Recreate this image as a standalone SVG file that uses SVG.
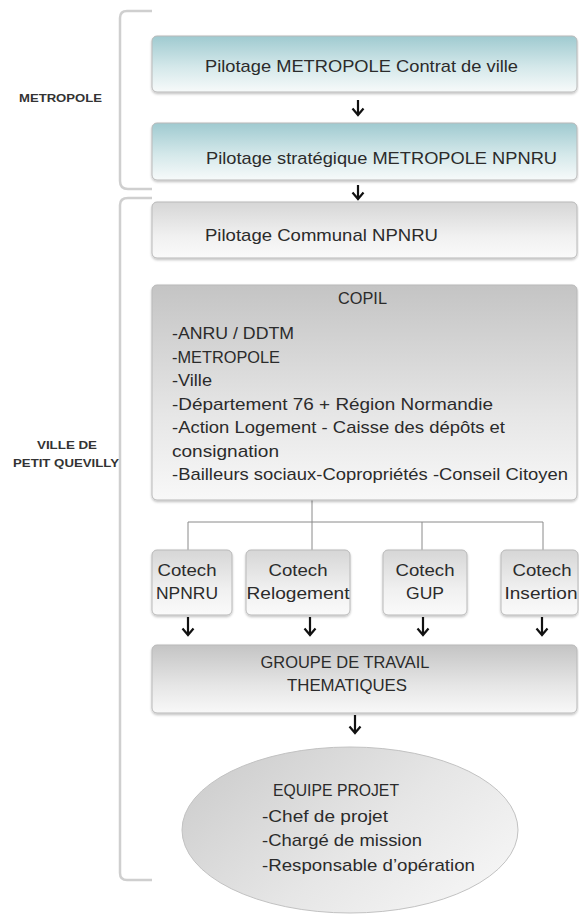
<svg xmlns="http://www.w3.org/2000/svg" width="579" height="916" viewBox="0 0 579 916">
<defs>
<linearGradient id="gBlue" x1="0" y1="0" x2="0" y2="1">
<stop offset="0" stop-color="#9fcad0"/><stop offset="0.55" stop-color="#d4e8ea"/><stop offset="1" stop-color="#f7fafa"/>
</linearGradient>
<linearGradient id="gGrayL" x1="0" y1="0" x2="0" y2="1">
<stop offset="0" stop-color="#d6d6d6"/><stop offset="0.6" stop-color="#f0f0f0"/><stop offset="1" stop-color="#fafafa"/>
</linearGradient>
<linearGradient id="gGray" x1="0" y1="0" x2="0" y2="1">
<stop offset="0" stop-color="#c4c4c4"/><stop offset="0.6" stop-color="#e6e6e6"/><stop offset="1" stop-color="#f8f8f8"/>
</linearGradient>
<linearGradient id="gEll" x1="0" y1="0.2" x2="1" y2="0.8">
<stop offset="0" stop-color="#cdcdcd"/><stop offset="0.55" stop-color="#e6e6e6"/><stop offset="1" stop-color="#f6f6f6"/>
</linearGradient>
<filter id="sh" x="-5%" y="-5%" width="110%" height="120%">
<feDropShadow dx="0" dy="1.5" stdDeviation="1.2" flood-color="#000" flood-opacity="0.25"/>
</filter>
</defs>
<style>
text{font-family:"Liberation Sans",Arial,sans-serif;fill:#2b2b2b;}
.t{font-size:17px;}
.lbl{font-size:11px;font-weight:bold;fill:#333;}
.box{stroke:#b9b9b9;stroke-width:1;filter:url(#sh);}
.br{fill:none;stroke:#cfcfcf;stroke-width:2.5;}
.ln{fill:none;stroke:#8a8a8a;stroke-width:1;}
.ar{fill:none;stroke:#111;stroke-width:2.2;}
</style>

<g id="brackets">
<path class="br" d="M152,11 H127 Q120,11 120,18 V181 Q120,189 128,189 H152"/>
<path class="br" d="M152,198 H128 Q120,198 120,205 V873 Q120,880 127,880 H152"/>
</g>

<g id="label-metropole"><text class="lbl" x="19" y="102" textLength="83" lengthAdjust="spacingAndGlyphs">METROPOLE</text></g>
<g id="label-ville">
<text class="lbl" x="37" y="449" textLength="60" lengthAdjust="spacingAndGlyphs">VILLE DE</text>
<text class="lbl" x="13" y="467" textLength="106" lengthAdjust="spacingAndGlyphs">PETIT QUEVILLY</text>
</g>

<g id="connectors">
<path class="ar" d="M358,100 V115 M352.5,108.5 L358,115 L363.5,108.5"/>
<path class="ar" d="M358,185 V199 M352.5,192.5 L358,199 L363.5,192.5"/>
<path class="ln" d="M312,500 V522 M188,522 H543 M188,522 V550 M312,522 V550 M422,522 V550 M543,522 V550"/>
<path class="ar" d="M188,617 V635 M182.5,628.5 L188,635 L193.5,628.5"/>
<path class="ar" d="M310,617 V635 M304.5,628.5 L310,635 L315.5,628.5"/>
<path class="ar" d="M423,617 V635 M417.5,628.5 L423,635 L428.5,628.5"/>
<path class="ar" d="M542,617 V635 M536.5,628.5 L542,635 L547.5,628.5"/>
<path class="ar" d="M355,715 V733 M349.5,726.5 L355,733 L360.5,726.5"/>
</g>

<g id="n-pilotage-metropole">
<rect class="box" x="152" y="36" width="425" height="56" rx="5" fill="url(#gBlue)"/>
<text class="t" x="205" y="72" textLength="313" lengthAdjust="spacingAndGlyphs">Pilotage  METROPOLE  Contrat de ville</text>
</g>

<g id="n-pilotage-strategique">
<rect class="box" x="152" y="123" width="425" height="57" rx="5" fill="url(#gBlue)"/>
<text class="t" x="206" y="164" textLength="351" lengthAdjust="spacingAndGlyphs">Pilotage  stratégique  METROPOLE  NPNRU</text>
</g>

<g id="n-pilotage-communal">
<rect class="box" x="152" y="202" width="425" height="56" rx="5" fill="url(#gGrayL)"/>
<text class="t" x="205" y="241" textLength="233" lengthAdjust="spacingAndGlyphs">Pilotage Communal  NPNRU</text>
</g>

<g id="n-copil">
<rect class="box" x="152" y="285" width="425" height="215" rx="5" fill="url(#gGray)"/>
<text class="t" x="338" y="304" textLength="49" lengthAdjust="spacingAndGlyphs">COPIL</text>
<text class="t" x="172" y="339" textLength="122" lengthAdjust="spacingAndGlyphs">-ANRU / DDTM</text>
<text class="t" x="172" y="362.5" textLength="108" lengthAdjust="spacingAndGlyphs">-METROPOLE</text>
<text class="t" x="172" y="386" textLength="40" lengthAdjust="spacingAndGlyphs">-Ville</text>
<text class="t" x="172" y="409.5" textLength="321" lengthAdjust="spacingAndGlyphs">-Département 76 + Région Normandie</text>
<text class="t" x="172" y="433" textLength="333" lengthAdjust="spacingAndGlyphs">-Action Logement - Caisse des dépôts et</text>
<text class="t" x="172" y="456.5" textLength="107" lengthAdjust="spacingAndGlyphs">consignation</text>
<text class="t" x="172" y="480" textLength="396" lengthAdjust="spacingAndGlyphs">-Bailleurs sociaux-Copropriétés -Conseil Citoyen</text>
</g>

<g id="n-cotech-npnru">
<rect class="box" x="152" y="550" width="80" height="65" rx="5" fill="url(#gGrayL)"/>
<text class="t" x="187" y="576" text-anchor="middle" textLength="59" lengthAdjust="spacingAndGlyphs">Cotech</text>
<text class="t" x="187" y="599" text-anchor="middle" textLength="62" lengthAdjust="spacingAndGlyphs">NPNRU</text>
</g>
<g id="n-cotech-relogement">
<rect class="box" x="246" y="550" width="104" height="65" rx="5" fill="url(#gGrayL)"/>
<text class="t" x="298" y="576" text-anchor="middle" textLength="59" lengthAdjust="spacingAndGlyphs">Cotech</text>
<text class="t" x="298" y="599" text-anchor="middle" textLength="103" lengthAdjust="spacingAndGlyphs">Relogement</text>
</g>
<g id="n-cotech-gup">
<rect class="box" x="383" y="550" width="84" height="65" rx="5" fill="url(#gGrayL)"/>
<text class="t" x="425" y="576" text-anchor="middle" textLength="59" lengthAdjust="spacingAndGlyphs">Cotech</text>
<text class="t" x="425" y="599" text-anchor="middle" textLength="38" lengthAdjust="spacingAndGlyphs">GUP</text>
</g>
<g id="n-cotech-insertion">
<rect class="box" x="501" y="550" width="77" height="65" rx="5" fill="url(#gGrayL)"/>
<text class="t" x="542" y="576" text-anchor="middle" textLength="59" lengthAdjust="spacingAndGlyphs">Cotech</text>
<text class="t" x="541" y="599" text-anchor="middle" textLength="73" lengthAdjust="spacingAndGlyphs">Insertion</text>
</g>

<g id="n-groupe">
<rect class="box" x="152" y="645" width="425" height="68" rx="5" fill="url(#gGray)"/>
<text class="t" x="345" y="668" text-anchor="middle" textLength="169" lengthAdjust="spacingAndGlyphs">GROUPE DE TRAVAIL</text>
<text class="t" x="347" y="691" text-anchor="middle" textLength="120" lengthAdjust="spacingAndGlyphs">THEMATIQUES</text>
</g>

<g id="n-equipe">
<ellipse cx="350" cy="830" rx="168" ry="83" fill="url(#gEll)" stroke="#c2c2c2" stroke-width="1"/>
<text class="t" x="273" y="796" textLength="126" lengthAdjust="spacingAndGlyphs">EQUIPE PROJET</text>
<text class="t" x="262" y="822" textLength="126" lengthAdjust="spacingAndGlyphs">-Chef de projet</text>
<text class="t" x="262" y="846" textLength="160" lengthAdjust="spacingAndGlyphs">-Chargé de mission</text>
<text class="t" x="262" y="871" textLength="213" lengthAdjust="spacingAndGlyphs">-Responsable d’opération</text>
</g>
</svg>
